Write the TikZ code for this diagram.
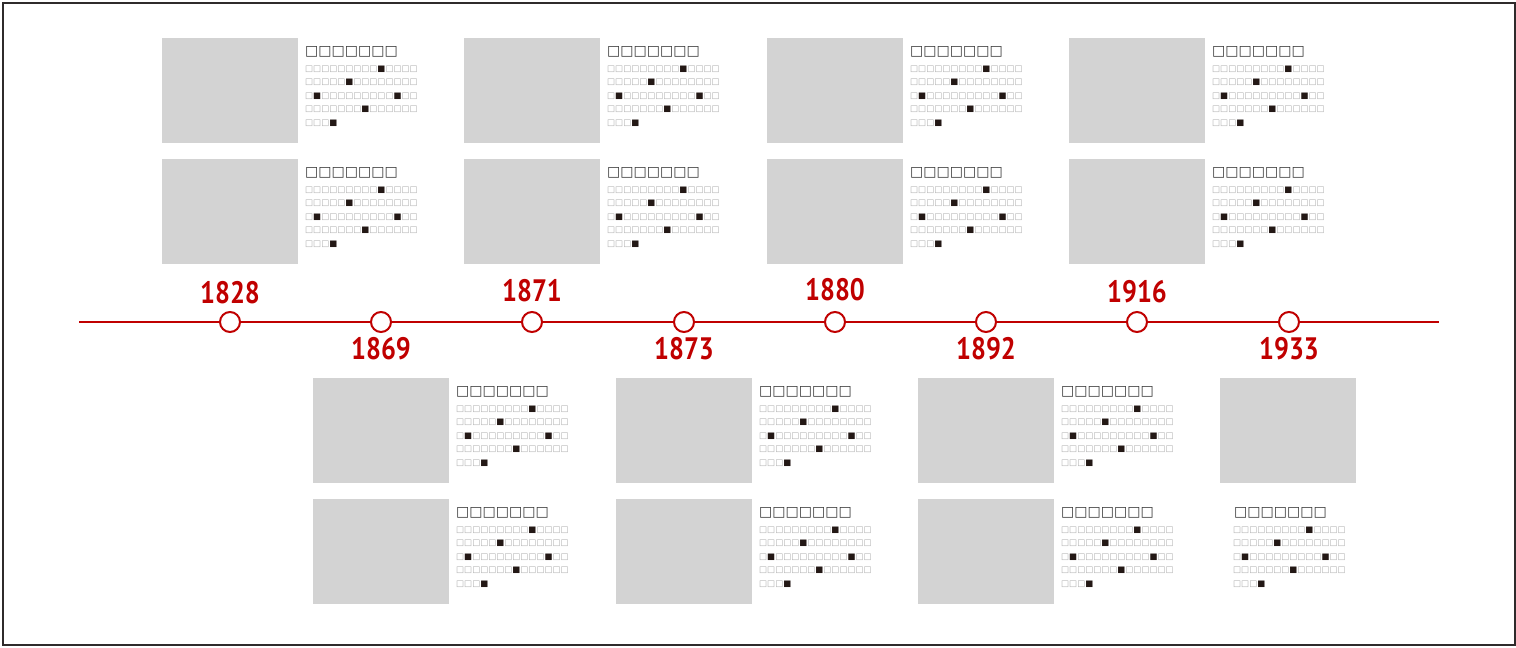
\documentclass[tikz,border=0pt]{standalone}
\usepackage{fontspec}
\setmainfont{PT Sans}
\newfontfamily\symfont{DejaVu Sans}
\newfontfamily\yearfont[FakeStretch=0.85]{PT Sans Bold}
\definecolor{tlred}{HTML}{C00000}
\definecolor{imggray}{HTML}{D3D3D3}
\definecolor{boxgray}{HTML}{A8A8A8}
\definecolor{boxdark}{HTML}{231815}
\definecolor{titlegray}{HTML}{3A3A3A}
\definecolor{framegray}{HTML}{2F2B2B}
\newcommand{\ob}{\textcolor{boxgray}{□}}
\newcommand{\fb}{\textcolor{boxdark}{■}}
\newcommand{\titlestr}{□□□□□□□}
\newcommand{\bodystr}{%
\ob\ob\ob\ob\ob\ob\ob\ob\ob\fb\ob\ob\ob\ob\\
\ob\ob\ob\ob\ob\fb\ob\ob\ob\ob\ob\ob\ob\ob\\
\ob\fb\ob\ob\ob\ob\ob\ob\ob\ob\ob\fb\ob\ob\\
\ob\ob\ob\ob\ob\ob\ob\fb\ob\ob\ob\ob\ob\ob\\
\ob\ob\ob\fb}
\tikzset{
  imgbox/.style={fill=imggray, draw=none, minimum width=136pt, minimum height=105pt, inner sep=0pt, anchor=north west},
  titletext/.style={font={\symfont\fontsize{14}{14}\selectfont}, text=titlegray, inner sep=0pt, anchor=west},
  bodytext/.style={font={\symfont\fontsize{8.5}{13.5}\selectfont}, align=left, inner sep=0pt, anchor=north west},
  tldot/.style={circle, draw=tlred, line width=2pt, fill=white, minimum size=20pt, inner sep=0pt},
  yearlbl/.style={font={\yearfont\fontsize{31}{31}\selectfont}, text=tlred, inner sep=0pt},
}
\newcommand{\mycard}[3]{%
  \begin{scope}[shift={(#2,#3)}]
    \node[imgbox] (#1img) at (0,0) {};
    \node[titletext] (#1title) at (143,14) {\titlestr};
    \node[bodytext] (#1body) at (143,27.5) {\bodystr};
  \end{scope}}
\begin{document}
\begin{tikzpicture}[x=1pt,y=-1pt]
\useasboundingbox (0,0) rectangle (1516,648);
\draw[framegray, line width=1.2pt] (3,3) rectangle (1515,645);
% cards top
\mycard{a1}{162}{38}
\mycard{a2}{162}{159}
\mycard{b1}{464}{38}
\mycard{b2}{464}{159}
\mycard{c1}{767}{38}
\mycard{c2}{767}{159}
\mycard{d1}{1069}{38}
\mycard{d2}{1069}{159}
% cards bottom
\mycard{e1}{313}{378}
\mycard{e2}{313}{499}
\mycard{f1}{616}{378}
\mycard{f2}{616}{499}
\mycard{g1}{918}{378}
\mycard{g2}{918}{499}
\node[imgbox] (h1img) at (1220,378) {};
\node[titletext] (h2title) at (1234,513) {\titlestr};
\node[bodytext] (h2body) at (1233,526.5) {\bodystr};
% timeline
\coordinate (tlL) at (79,322);
\coordinate (tlR) at (1439,322);
\draw[tlred, line width=2pt] (tlL) -- (tlR);
\foreach \n/\x in {1/230,2/381,3/532,4/684,5/835,6/986,7/1137,8/1289}{
  \node[tldot] (t\n) at (\x,322) {};
}
\node[yearlbl] (y1) at ([yshift=29pt]t1.center) {1828};
\node[yearlbl] (y3) at ([yshift=31pt]t3.center) {1871};
\node[yearlbl] (y5) at ([yshift=32pt]t5.center) {1880};
\node[yearlbl] (y7) at ([yshift=30pt]t7.center) {1916};
\node[yearlbl] (y2) at ([yshift=-27pt]t2.center) {1869};
\node[yearlbl] (y4) at ([yshift=-27pt]t4.center) {1873};
\node[yearlbl] (y6) at ([yshift=-27pt]t6.center) {1892};
\node[yearlbl] (y8) at ([yshift=-27pt]t8.center) {1933};
\end{tikzpicture}
\end{document}
